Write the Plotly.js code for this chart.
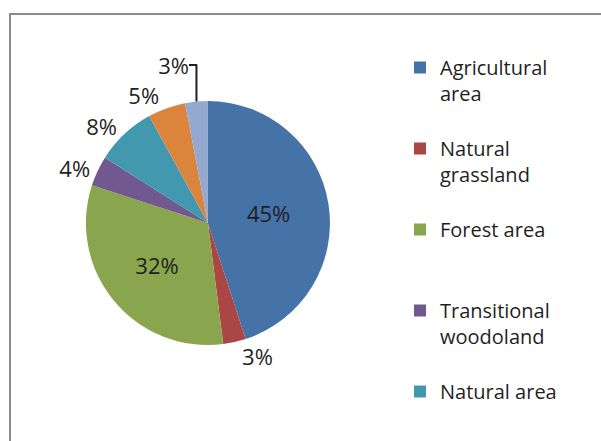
<!DOCTYPE html>
<html>
<head>
<meta charset="utf-8">
<script src="https://cdn.plot.ly/plotly-3.0.1.min.js"></script>
<style>
  html, body { margin: 0; padding: 0; background: #ffffff; }
  #wrap { width: 601px; height: 441px; overflow: hidden; position: relative; }
  #chart { width: 601px; height: 700px; }
</style>
</head>
<body>
<div id="wrap"><div id="chart"></div></div>
<script>
// Land-use shares (percent), clockwise from 12 o'clock.
// The last two categories' names are cut off in the reference legend (unknown), so they stay unnamed.
const labels = [
  'Agricultural<br>area<br> ',
  'Natural<br>grassland<br> ',
  'Forest area<br> <br> ',
  'Transitional<br>woodoland<br> ',
  'Natural area<br> <br> ',
  'unnamed 6',
  'unnamed 7'
];
const values = [45, 3, 32, 4, 8, 5, 3];
const legendCount = 5; // legend entries visible in the reference
const colors = ['#4572A7', '#AA4643', '#89A54E', '#71588F', '#4198AF', '#DB843D', '#93A9CF'];
const textPositions = ['inside', 'outside', 'inside', 'outside', 'outside', 'outside', 'outside'];

const H = 700;
const FONT = '"Open Sans", "Noto Sans", sans-serif';

// Main pie: all slices, no legend of its own
const pieMain = {
  type: 'pie',
  labels: labels,
  values: values,
  showlegend: false,
  sort: false,
  direction: 'clockwise',
  rotation: 0,
  textinfo: 'percent',
  textposition: textPositions,
  insidetextorientation: 'horizontal',
  marker: { colors: colors, line: { width: 0 } },
  textfont: { family: FONT, size: 22, color: '#1f1f1f' },
  insidetextfont: { family: FONT, size: 22, color: '#1f1f1f' },
  outsidetextfont: { family: FONT, size: 22, color: '#1f1f1f' },
  domain: { x: [0.138, 0.554], y: [(H - 345) / H, (H - 101) / H] },
  hoverinfo: 'percent'
};

// Legend carrier: the categories that the reference legend shows, placed below the visible frame
const pieLegend = {
  type: 'pie',
  labels: labels.slice(0, legendCount),
  values: values.slice(0, legendCount),
  showlegend: true,
  sort: false,
  textinfo: 'none',
  hoverinfo: 'skip',
  marker: { colors: colors.slice(0, legendCount), line: { width: 0 } },
  domain: { x: [0.0, 0.1], y: [0.0, 0.08] }
};

const layout = {
  width: 601,
  height: H,
  margin: { l: 0, r: 0, t: 0, b: 0 },
  paper_bgcolor: '#ffffff',
  showlegend: true,
  legend: {
    x: 400 / 601, xanchor: 'left',
    y: (H - 48) / H, yanchor: 'top',
    valign: 'top',
    bgcolor: 'rgba(0,0,0,0)',
    font: { family: FONT, size: 20, color: '#1f1f1f' }
  },
  shapes: [{
    type: 'rect', xref: 'paper', yref: 'paper',
    x0: 10 / 601, x1: 1.05, y0: -0.05, y1: (H - 14) / H,
    line: { color: '#8a8a8a', width: 2 }, fillcolor: 'rgba(0,0,0,0)', layer: 'below'
  }]
};

Plotly.newPlot('chart', [pieMain, pieLegend], layout, { displayModeBar: false, staticPlot: true });
</script>
</body>
</html>
